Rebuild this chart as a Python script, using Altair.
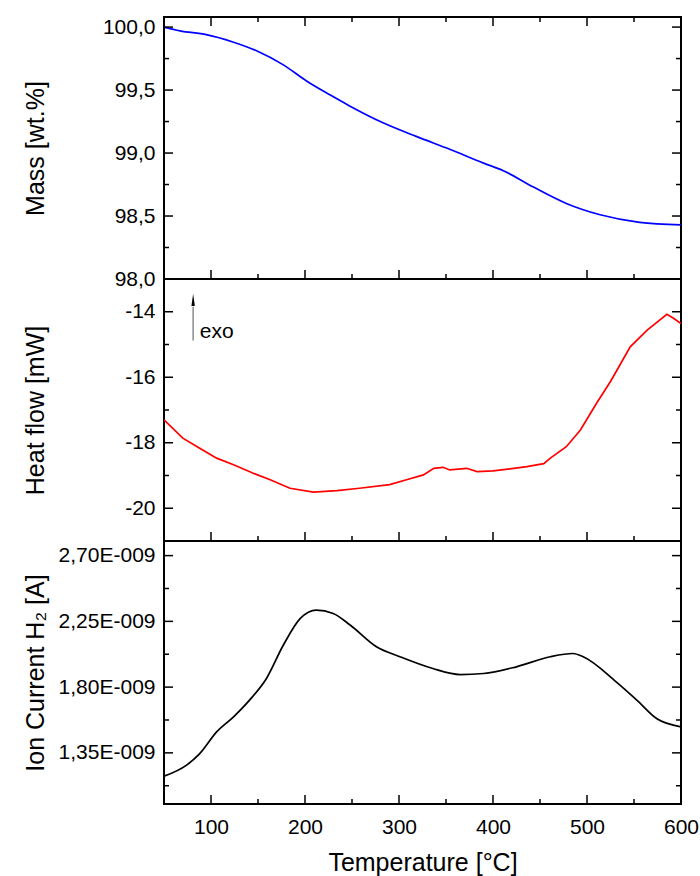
import altair as alt
import pandas as pd

# ---------------- data ----------------
temp_mass = [50, 67, 95, 124, 149, 177, 202, 227, 246, 283, 319, 354, 390, 411, 443, 478, 514, 556, 600]
mass_pct = [100.0, 99.97, 99.94, 99.88, 99.81, 99.70, 99.57, 99.46, 99.38, 99.24, 99.13, 99.03,
            98.92, 98.86, 98.73, 98.60, 98.51, 98.45, 98.43]

temp_heat = [50, 70, 88, 106, 124, 145, 163, 184, 209, 234, 258, 290, 308, 326, 337, 347, 354,
             372, 383, 400, 418, 436, 454, 461, 478, 493, 510, 525, 546, 564, 585, 592, 600]
heat_flow = [-17.30, -17.86, -18.17, -18.47, -18.67, -18.93, -19.13, -19.39, -19.51, -19.46,
             -19.39, -19.28, -19.13, -18.98, -18.78, -18.75, -18.83, -18.78, -18.88, -18.86,
             -18.80, -18.73, -18.64, -18.47, -18.12, -17.61, -16.80, -16.13, -15.07, -14.56,
             -14.08, -14.20, -14.36]

temp_ion = [50, 74, 88, 106, 124, 141, 159, 177, 195, 212, 230, 248, 276, 301, 336, 365, 390,
            425, 461, 485, 496, 531, 553, 574, 600]
ion_current = [1.19e-9, 1.266e-9, 1.345e-9, 1.494e-9, 1.597e-9, 1.711e-9, 1.859e-9, 2.088e-9,
               2.270e-9, 2.327e-9, 2.304e-9, 2.225e-9, 2.076e-9, 2.008e-9, 1.927e-9, 1.886e-9,
               1.893e-9, 1.939e-9, 2.008e-9, 2.030e-9, 2.008e-9, 1.836e-9, 1.711e-9, 1.585e-9,
               1.528e-9]

x_major = [100, 200, 300, 400, 500, 600]
x_minor = [50, 150, 250, 350, 450, 550]
mass_major = [98.0, 98.5, 99.0, 99.5, 100.0]
mass_minor = [98.25, 98.75, 99.25, 99.75]
heat_major = [-20, -18, -16, -14]
heat_minor = [-19, -17, -15]
ion_major = [1.35e-9, 1.80e-9, 2.25e-9, 2.70e-9]
ion_minor = [1.125e-9, 1.575e-9, 2.025e-9, 2.475e-9]

# exo annotation (data coordinates)
exo_x = [81]
exo_y0 = [-14.88]
exo_y1 = [-13.85]
exo_head = [-13.64]
exo_text_x = [88]
exo_text_y = [-14.8]

# ---------------- style ----------------
FONT = "Liberation Sans"
W = 517
MAJ, MIN = 9, 5
TICK_W = 1.5

xscale = alt.Scale(domain=[50, 600], nice=False, zero=False)


def y_axis(title, values, expr, H):
    return alt.Axis(title=title, values=values, labelExpr=expr, ticks=False, domain=False,
                    grid=False, labelFont=FONT, labelFontSize=21, labelColor="black",
                    labelPadding=9, titleFont=FONT, titleFontSize=25, titleFontWeight="normal",
                    titleColor="black", titleX=-121, titleY=H / 2, titleAngle=-90,
                    titleAlign="center", titleBaseline="alphabetic")


def panel(xs, ys, color, ydomain, ymaj, ymin, yaxis, xaxis, H, top_ticks, interp, extra=None):
    df = pd.DataFrame({"x": xs, "y": ys})
    X = alt.X("x:Q", scale=xscale, axis=xaxis)
    Y = alt.Y("y:Q", scale=alt.Scale(domain=ydomain, nice=False, zero=False), axis=yaxis)
    layers = [alt.Chart(df).mark_line(color=color, strokeWidth=1.7, interpolate=interp,
                                      clip=True).encode(x=X, y=Y)]

    def rule(d):
        return alt.Chart(d).mark_rule(color="black", strokeWidth=TICK_W)

    for vals, L in ((x_major, MAJ), (x_minor, MIN)):
        d = pd.DataFrame({"x": vals})
        layers.append(rule(d).encode(x=X, y=alt.value(H), y2=alt.value(H - L)))
        if top_ticks:
            layers.append(rule(d).encode(x=X, y=alt.value(0), y2=alt.value(L)))
    for vals, L in ((ymaj, MAJ), (ymin, MIN)):
        d = pd.DataFrame({"y": vals})
        layers.append(rule(d).encode(y=Y, x=alt.value(0), x2=alt.value(L)))
        layers.append(rule(d).encode(y=Y, x=alt.value(W), x2=alt.value(W - L)))
    if extra:
        layers += extra(X, Y)
    return alt.layer(*layers).properties(width=W, height=H)


H1, H2, H3 = 262, 262, 263

top = panel(temp_mass, mass_pct, "#0000ff", [98.0, 100.08], mass_major, mass_minor,
            y_axis("Mass [wt.%]", mass_major, "replace(format(datum.value, '.1f'), '.', ',')", H1),
            None, H1, True, "monotone")


def exo_layers(X, Y):
    d_shaft = pd.DataFrame({"x": exo_x, "y": exo_y0, "y2": exo_y1})
    d_head = pd.DataFrame({"x": exo_x, "y": exo_head})
    d_text = pd.DataFrame({"x": exo_text_x, "y": exo_text_y})
    shaft = alt.Chart(d_shaft).mark_rule(color="#8c8c8c", strokeWidth=1.5).encode(
        x=X, y=Y, y2="y2:Q")
    head = alt.Chart(d_head).mark_point(shape="M0,-1L0.28,1L-0.28,1Z", filled=True,
                                        color="black", opacity=1, size=150).encode(x=X, y=Y)
    txt = alt.Chart(d_text).mark_text(text="exo", font=FONT, fontSize=21, color="black",
                                      align="left", baseline="alphabetic").encode(x=X, y=Y)
    return [shaft, head, txt]


middle = panel(temp_heat, heat_flow, "#ff0000", [-21, -13], heat_major, heat_minor,
               y_axis("Heat flow [mW]", heat_major, "'' + datum.value", H2),
               None, H2, False, "linear", extra=exo_layers)

x_axis = alt.Axis(title="Temperature [°C]", values=x_major, format="d", ticks=False, domain=False,
                  grid=False, labelFont=FONT, labelFontSize=21, labelColor="black",
                  labelPadding=12, labelFlush=False, titleFont=FONT, titleFontSize=25,
                  titleFontWeight="normal", titleColor="black", titleY=66,
                  titleBaseline="alphabetic")

bottom = panel(temp_ion, ion_current, "black", [1.0e-9, 2.8e-9], ion_major, ion_minor,
               y_axis("Ion Current H₂ [A]", ion_major,
                      "replace(format(datum.value * 1e9, '.2f'), '.', ',') + 'E-009'", H3),
               x_axis, H3, False, "monotone")

chart = alt.vconcat(top, middle, bottom, spacing=0, bounds="flush").properties(
    padding={"left": 22, "top": 15, "right": 0, "bottom": 0},
    background="white",
).configure_view(stroke="black", strokeWidth=2)

chart.save("out.html", embed_options={"renderer": "svg", "actions": False})
